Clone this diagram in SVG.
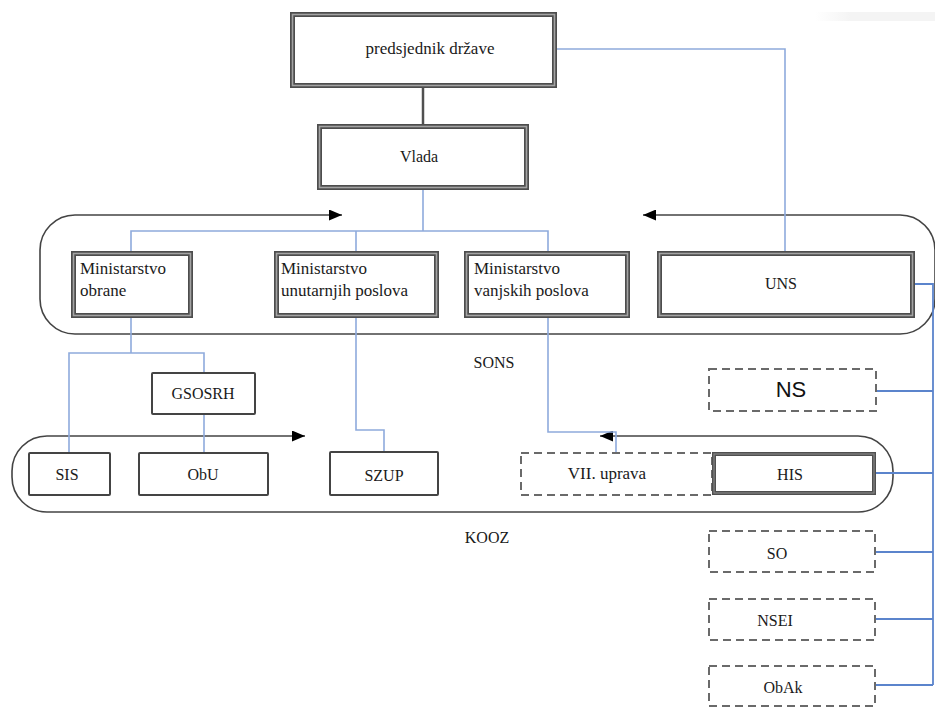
<svg xmlns="http://www.w3.org/2000/svg" width="935" height="707" viewBox="0 0 935 707">
<style>
  .t { font-family: "Liberation Serif", "Times New Roman", serif; font-size: 17px; fill: #1a1a1a; }
  .c { text-anchor: middle; }
  .s16 { font-size: 16px; }
  .sans { font-family: "Liberation Sans", Arial, sans-serif; font-size: 22px; fill: #111; }
  .dbl { fill: #fff; stroke: #4d4d4d; stroke-width: 5; }
  .dblin { fill: none; stroke: #a3a3a3; stroke-width: 1.6; }
  .his { fill: #fff; stroke: #505050; stroke-width: 4; }
  .hisin { fill: none; stroke: #858585; stroke-width: 1.2; }
  .box { fill: #fff; stroke: #444; stroke-width: 2; }
  .dash { fill: #fff; stroke: #6a6a6a; stroke-width: 2; stroke-dasharray: 8 5; }
  .cont { fill: none; stroke: #444; stroke-width: 1.6; }
  .blue { fill: none; stroke: #8eaadc; stroke-width: 1.6; }
  .blue2 { fill: none; stroke: #5b84cc; stroke-width: 1.8; }
  .dark { fill: none; stroke: #505050; stroke-width: 2.5; }
</style>
<defs>
  <marker id="ah" viewBox="0 0 13 11" refX="13" refY="5.5" markerWidth="13" markerHeight="11" markerUnits="userSpaceOnUse" orient="auto-start-reverse">
    <path d="M0,0 L13,5.5 L0,11 z" fill="#000"/>
  </marker>
  <linearGradient id="fade" x1="0" y1="0" x2="1" y2="0">
    <stop offset="0" stop-color="#f4f4f4" stop-opacity="0"/>
    <stop offset="0.3" stop-color="#f4f4f4" stop-opacity="1"/>
  </linearGradient>
</defs>
<rect x="0" y="0" width="935" height="707" fill="#fff"/>
<rect x="815" y="12" width="120" height="9" fill="url(#fade)"/>

<g id="containers">
  <path id="sons-frame" class="cont" d="M643,215 H900 A35,35 0 0 1 935,250 V299 A35,35 0 0 1 900,334 H75 A35,35 0 0 1 40,299 V250 A35,35 0 0 1 75,215 H342" marker-start="url(#ah)" marker-end="url(#ah)"/>
  <path id="kooz-frame" class="cont" d="M600,436 H858 A35,35 0 0 1 893,471 V477 A35,35 0 0 1 858,512 H47 A35,35 0 0 1 12,477 V471 A35,35 0 0 1 47,436 H305" marker-start="url(#ah)" marker-end="url(#ah)"/>
</g>

<g id="connectors">
  <path class="dark" d="M423,88 V124"/>
  <path class="blue" d="M423,190 V231"/>
  <path class="blue" d="M131,251 V231 H548 V251"/>
  <path class="blue" d="M356,231 V251"/>
  <path class="blue" d="M557,49 H785 V251"/>
  <path class="blue" d="M131,318 V353"/>
  <path class="blue" d="M69,452 V353 H204 V372"/>
  <path class="blue" d="M204,415 V452"/>
  <path class="blue" d="M356,318 V430 H384 V451"/>
  <path class="blue" d="M548,318 V432 H616 V452"/>
  <path class="blue2" d="M915,284 H933 V685"/>
  <path class="blue2" d="M877,391 H933"/>
  <path class="blue2" d="M876,473 H933"/>
  <path class="blue2" d="M876,552 H933"/>
  <path class="blue2" d="M876,619 H933"/>
  <path class="blue2" d="M876,685 H933"/>
</g>

<g id="predsjednik">
  <rect class="dbl" x="292.5" y="14.5" width="262" height="71"/>
  <rect class="dblin" x="292.5" y="14.5" width="262" height="71"/>
  <text class="t c" x="430" y="54">predsjednik države</text>
</g>
<g id="vlada">
  <rect class="dbl" x="319.5" y="126.5" width="207" height="61"/>
  <rect class="dblin" x="319.5" y="126.5" width="207" height="61"/>
  <text class="t c s16" x="419" y="162">Vlada</text>
</g>
<g id="min-obrane">
  <rect class="dbl" x="73.5" y="253.5" width="117" height="62"/>
  <rect class="dblin" x="73.5" y="253.5" width="117" height="62"/>
  <text class="t" x="80" y="274">Ministarstvo</text>
  <text class="t" x="80" y="296">obrane</text>
</g>
<g id="min-unutarnjih">
  <rect class="dbl" x="276.5" y="253.5" width="160" height="62"/>
  <rect class="dblin" x="276.5" y="253.5" width="160" height="62"/>
  <text class="t" x="281" y="274">Ministarstvo</text>
  <text class="t" x="281" y="296">unutarnjih poslova</text>
</g>
<g id="min-vanjskih">
  <rect class="dbl" x="466.5" y="253.5" width="161" height="62"/>
  <rect class="dblin" x="466.5" y="253.5" width="161" height="62"/>
  <text class="t" x="474" y="274">Ministarstvo</text>
  <text class="t" x="474" y="296">vanjskih poslova</text>
</g>
<g id="uns">
  <rect class="dbl" x="659.5" y="253.5" width="253" height="62"/>
  <rect class="dblin" x="659.5" y="253.5" width="253" height="62"/>
  <text class="t c s16" x="781" y="289">UNS</text>
</g>
<g id="sons-label">
  <text class="t c s16" x="494" y="368">SONS</text>
</g>
<g id="gsosrh">
  <rect class="box" x="152" y="373" width="103" height="41" rx="1"/>
  <text class="t c s16" x="203" y="399">GSOSRH</text>
</g>
<g id="ns">
  <rect class="dash" x="709" y="369" width="167" height="42"/>
  <text class="sans c" x="791" y="397">NS</text>
</g>
<g id="sis">
  <rect class="box" x="29" y="453" width="81" height="42" rx="1"/>
  <text class="t c s16" x="67" y="480">SIS</text>
</g>
<g id="obu">
  <rect class="box" x="139" y="453" width="129" height="42" rx="1"/>
  <text class="t c s16" x="203" y="480">ObU</text>
</g>
<g id="szup">
  <rect class="box" x="330" y="452" width="108" height="43" rx="1"/>
  <text class="t c s16" x="384" y="481">SZUP</text>
</g>
<g id="vii-uprava">
  <rect class="dash" x="521" y="453" width="191" height="42"/>
  <text class="t c" x="607" y="479">VII. uprava</text>
</g>
<g id="his">
  <rect class="his" x="714" y="454" width="160" height="39"/>
  <rect class="hisin" x="714" y="454" width="160" height="39"/>
  <text class="t c s16" x="790" y="480">HIS</text>
</g>
<g id="kooz-label">
  <text class="t c s16" x="487" y="543">KOOZ</text>
</g>
<g id="so">
  <rect class="dash" x="709" y="531" width="166" height="41"/>
  <text class="t c s16" x="777" y="559">SO</text>
</g>
<g id="nsei">
  <rect class="dash" x="709" y="599" width="166" height="41"/>
  <text class="t c s16" x="775" y="626">NSEI</text>
</g>
<g id="obak">
  <rect class="dash" x="709" y="666" width="166" height="40"/>
  <text class="t c s16" x="783" y="693">ObAk</text>
</g>
</svg>
